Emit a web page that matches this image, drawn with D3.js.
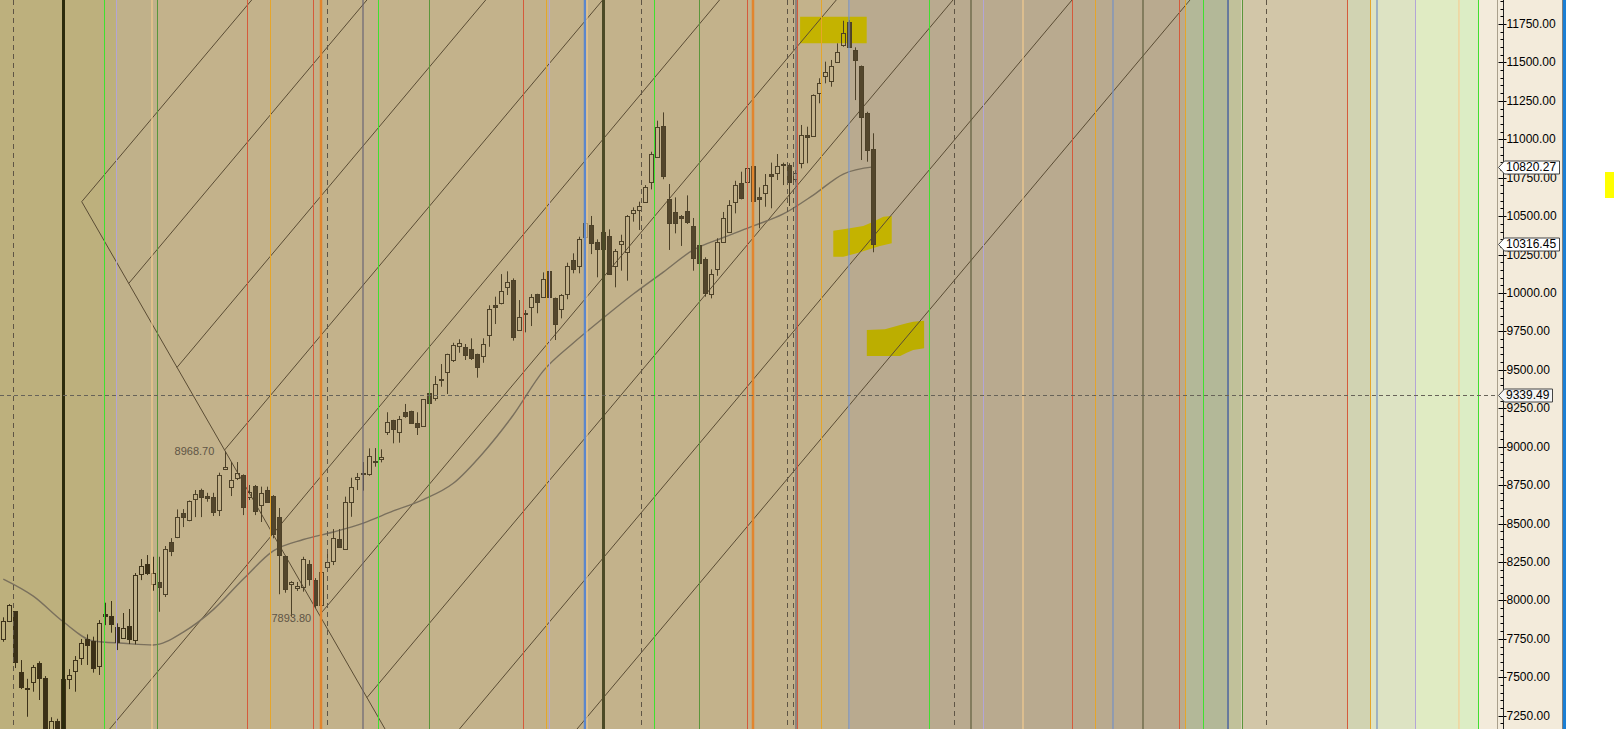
<!DOCTYPE html>
<html>
<head>
<meta charset="utf-8">
<script src="https://cdn.jsdelivr.net/npm/d3@7"></script>
<style>
  html, body { margin: 0; padding: 0; background: #fff; overflow: hidden; }
  svg { display: block; font-family: "Liberation Sans", Arial, sans-serif; }
</style>
</head>
<body>
<svg id="chart" width="1614" height="729"></svg>
<script>
// daily bars, oldest first
const opens = [7747,7863,7931,7532,7429,7471,7591,7494,7130,7214,
  7120,7486,7542,7623,7749,7736,7575,7911,7898,7824,
  7757,7833,7742,8169,8236,8105,8117,8039,8379,8411,
  8566,8522,8658,8716,8677,8673,8586,8857,8736,8794,
  8816,8671,8744,8619,8716,8681,8541,8288,8105,8080,
  8089,8236,8132,7970,8215,8258,8399,8332,8638,8788,
  8827,8820,8905,8918,9093,9172,9097,9224,9230,9152,
  9136,9347,9315,9440,9484,9562,9657,9650,9634,9601,
  9593,9725,9920,9937,10037,10082,9759,9870,9911,9991,
  9976,10141,9967,9898,9993,10213,10177,10362,10440,10330,
  10288,10371,10177,10317,10268,10518,10538,10594,10724,10887,
  11086,10611,10525,10501,10533,10436,10310,10219,9991,10154,
  10334,10399,10594,10713,10720,10826,10622,10652,10774,10782,
  10839,10831,10740,10844,11028,11021,11303,11410,11377,11505,
  11613,11761,11581,11477,11169,10935];
const highs = [7890,7976,7931,7612,7490,7580,7604,7508,7240,7230,
  7510,7553,7638,7749,7779,7764,7872,7985,7996,7851,
  7918,7944,8178,8269,8295,8284,8284,8354,8405,8592,
  8594,8650,8718,8727,8700,8700,8831,8968.7,8900,8900,
  8820,8751,8751,8740,8740,8685,8601,8290,8125,8120,
  8284,8262,8145,8210,8315,8464,8464,8675,8798,8829,
  8900,8989,8991,8983,9224,9175,9200,9278,9234,9224,
  9310,9382,9460,9538,9605,9676,9699,9668,9705,9605,
  9705,9920,9976,10123,10141,10095,9954,9889,9993,9995,
  10134,10188,9970,9993,10197,10258,10366,10475,10501,10349,
  10423,10414,10286,10379,10507,10557,10594,10702,10919,11121,
  11175,10709,10622,10507,10635,10488,10340,10232,10154,10356,
  10527,10604,10730,10789,10815,10830,10687,10774,10848,10904,
  10848,10844,10800,11093,11082,11292,11397,11505,11516,11624,
  11771,11775,11598,11480,11179,11039];
const lows = [7731,7859,7560,7423,7243,7406,7352,7050,7100,7080,
  7090,7423,7406,7580,7580,7530,7515,7839,7790,7677,
  7749,7716,7714,8132,8165,8063,7926,8022,8288,8405,
  8477,8515,8542,8542,8642,8549,8549,8848,8679,8783,
  8555,8653,8555,8510,8640,8404,8040,8050,7893.8,8061,
  8057,8096,7950,7950,8198,8230,8343,8330,8544,8718,
  8714,8811,8870,8898,9076,9022,9026,9188,9150,9076,
  9130,9278,9299,9390,9343,9551,9611,9564,9564,9449,
  9546,9650,9798,9926,9987,9690,9754,9744,9785,9868,
  9972,9970,9694,9835,9959,10128,10128,10345,10253,10102,
  10266,10120,10037,10145,10080,10464,10410,10590,10674,10885,
  10740,10280,10388,10306,10449,10145,10180,9976,9965,10112,
  10327,10395,10518,10609,10637,10595,10421,10561,10551,10735,
  10702,10566,10720,10811,10844,11017,11234,11364,11342,11503,
  11602,11595,11255,10865,10854,10265];
const closes = [7865,7970,7601,7438,7421,7567,7494,7100,7214,7120,
  7486,7514,7612,7720,7712,7558,7852,7900,7846,7731,
  7820,7749,8165,8223,8176,8176,8089,8332,8322,8542,
  8542,8646,8690,8675,8668,8573,8814,8870,8783,8831,
  8609,8703,8583,8697,8642,8432,8297,8076,8120,8094,
  8267,8141,7970,8187,8248,8404,8349,8642,8740,8801,
  8820,8941,8898,8935,9162,9113,9178,9202,9152,9126,
  9308,9286,9406,9432,9601,9660,9672,9594,9579,9520,
  9671,9894,9911,10015,10069,9715,9842,9861,9976,9939,
  10089,9972,9796,9987,10175,10154,10349,10457,10327,10288,
  10395,10123,10273,10336,10501,10538,10566,10687,10904,11078,
  10763,10457,10457,10490,10464,10229,10197,10002,10121,10334,
  10486,10570,10700,10620,10811,10600,10609,10702,10763,10826,
  10831,10719,10778,11028,11017,11288,11364,11436,11477,11566,
  11689,11598,11516,11147,10930,10316.45];

// moving average read every 5 bars
const maIndex = [0,5,10,15,20,25,30,35,40,45,50,55,60,65,70,75,80,85,90,95,100,105,110,115,120,125,130,135,140,145];
const maValues = [8139,8028,7861,7736,7721,7710,7794,7940,8139,8322,8396,8445,8503,8582,8656,8762,8961,9206,9493,9675,9837,9993,10136,10280,10361,10436,10514,10637,10774,10820.27];

const majorTicks = [7250,7500,7750,8000,8250,8500,8750,9000,9250,9500,9750,10000,10250,10500,10750,11000,11250,11500,11750];
const minorTicks = d3.range(7200, 11901, 50).filter(v => v % 250 !== 0);

// price flags on the axis
const flagValues = [10820.27, 10316.45, 9339.49];
const crosshairValue = 9339.49;
const highLabel = { bar: 37, value: 8968.70 };
const lowLabel = { bar: 48, value: 7893.80 };

// time cycle markers, in bar units
const cycleAt = [1.67,10.0,16.73,18.83,24.73,25.67,40.67,44.5,51.67,53.0,54.0,60.0,
  62.53,70.87,86.57,90.45,91.0,97.03,97.33,100.03,106.2,108.37,116.0,123.9,
  125.0,130.57,131.57,132.08,132.32,136.2,141.02,154.2,158.42,161.22,163.22,170.02,
  178.18,182.03,185.03,190.02,196.02,197.03,200.03,204.07,206.37,210.5,224.0,227.83,
  229.0,235.33,242.68,245.83];
const cycleKind = ['dash','black','green','lilac','peach','dkgreen','red','amber','red','orange','dash','slate',
  'green','dkgreen','red','amber','lilac','blue','peach','olive3','dash','green','dkgreen','red',
  'orange','dash','dash','slate','red','amber','steel','green','dash','olive','lilac','peach',
  'red','amber','steel','olive','red','amber','green','navy','dkgreen','dash','red','amber',
  'steel','lilac','peach','green'];

// parallel trend lines: [bar, price] end points
const fanLines = [
  [[13.07,10594],[41.40,11906.1]],
  [[20.90,10062],[60.60,11906.1]],
  [[28.95,9516],[80.40,11906.1]],
  [[36.87,8978],[99.90,11906.1]],
  [[17.73,7163.4],[119.37,11906.1]],
  [[52.70,7905],[138.83,11906.1]],
  [[60.62,7368],[158.28,11906.1]],
  [[76.03,7163.4],[178.12,11906.1]],
  [[95.62,7163.4],[197.78,11906.1]],
  [[13.07,10594],[63.62,7163.4]]
];

// hand marked zones
const zoneTop = [[132.8,11797],[143.9,11797],[143.9,11624],[132.8,11624]];
const zoneMid = [[138.33,10405],[140.57,10418],[143.33,10436],[145.0,10464],[146.67,10496],[148.07,10501],
  [148.07,10323],[146.12,10306],[142.23,10258],[140.0,10236],[138.33,10236]];
const zoneLow = [[143.92,9759],[146.95,9764],[149.48,9792],[150.57,9803],[151.65,9813],[153.47,9820],
  [153.47,9640],[151.65,9629],[150.57,9611],[149.48,9590],[143.92,9590]];
const sideMark = [10787, 10618];

// background shading, bar units
const bandEdges = [-0.55,18.83,25.67,141.02,197.03,204.07,206.37,224.0,227.83,235.33,242.68,245.95];
const bandFills = ['#bdb07d','#c0b18a','#c3b28b','#b9aa8f','#b3b898','#c1c19a','#d2c6a8','#d1d3b2','#dde3c3','#e0ebc3','#dcedc5'];

const lineStyle = {
  dash: { stroke: '#5f5545', w: 1, dash: '5,4' },
  black: { stroke: '#2c2b0c', w: 3 },
  olive3: { stroke: '#4c4a26', w: 3 },
  green: { stroke: '#3fe02f', w: 1 },
  lilac: { stroke: '#b3a5d6', w: 1 },
  peach: { stroke: '#f3cb8f', w: 1.2 },
  dkgreen: { stroke: '#5b963b', w: 1 },
  red: { stroke: '#d55a3b', w: 1 },
  amber: { stroke: '#e6a52a', w: 1 },
  orange: { stroke: '#e2852d', w: 2.5 },
  slate: { stroke: '#6a6676', w: 1.2 },
  blue: { stroke: '#5b87cc', w: 2.5 },
  steel: { stroke: '#7490c4', w: 1.2 },
  olive: { stroke: '#5f5e3d', w: 1.2 },
  navy: { stroke: '#50679c', w: 1.6 }
};

const W = 1614, H = 729, plotW = 1479;
const svg = d3.select('#chart');
const x = d3.scaleLinear().domain([-0.55, 245.95]).range([0, plotW]);
const y = d3.scaleLinear().domain([7163.4, 11906.1]).range([H, 0]);
const crisp = v => Math.round(v) + 0.5;

svg.append('defs').append('clipPath').attr('id', 'plotClip')
  .append('rect').attr('width', plotW).attr('height', H);

const plot = svg.append('g').attr('clip-path', 'url(#plotClip)');

// bands
plot.append('g').selectAll('rect')
  .data(bandFills)
  .join('rect')
  .attr('x', (d, i) => x(bandEdges[i]))
  .attr('width', (d, i) => x(bandEdges[i + 1]) - x(bandEdges[i]))
  .attr('y', 0)
  .attr('height', H)
  .attr('fill', d => d);

// zones under the candles
const zoneLine = d3.line().x(d => x(d[0])).y(d => y(d[1]));
plot.append('g').selectAll('path')
  .data([zoneTop, zoneMid, zoneLow])
  .join('path')
  .attr('d', d => zoneLine(d) + 'Z')
  .attr('fill', (d, i) => i === 2 ? '#bcae00' : '#c4b300');

// trend lines
plot.append('g').selectAll('line')
  .data(fanLines)
  .join('line')
  .attr('x1', d => x(d[0][0])).attr('y1', d => y(d[0][1]))
  .attr('x2', d => x(d[1][0])).attr('y2', d => y(d[1][1]))
  .attr('stroke', '#5a4c34')
  .attr('stroke-width', 1);

// moving average
const maPts = maIndex.map((b, i) => [b, maValues[i]]);
plot.append('path')
  .datum(maPts)
  .attr('d', d3.line().x(d => x(d[0])).y(d => y(d[1])).curve(d3.curveMonotoneX))
  .attr('fill', 'none')
  .attr('stroke', '#7a705d')
  .attr('stroke-width', 1.4);

// candles (the older ones on the olive shading print darker)
const bars = opens.map((o, i) => ({ i, o, h: highs[i], l: lows[i], c: closes[i] }));
const barX = d => crisp(x(d.i));
const bodyTop = d => crisp(y(Math.max(d.o, d.c)));
const bodyBot = d => Math.max(crisp(y(Math.min(d.o, d.c))), bodyTop(d) + 1);
const ink = d => d.i < bandEdges[2] ? '#3d3219' : '#4d4128';
const gBars = plot.append('g');
gBars.selectAll('path')
  .data(bars)
  .join('path')
  .attr('d', d => `M${barX(d)},${y(d.h)}V${bodyTop(d)}M${barX(d)},${bodyBot(d)}V${y(d.l)}`)
  .attr('stroke', ink)
  .attr('stroke-width', 1);
gBars.selectAll('rect')
  .data(bars)
  .join('rect')
  .attr('x', d => barX(d) - 2)
  .attr('width', 4)
  .attr('y', bodyTop)
  .attr('height', d => bodyBot(d) - bodyTop(d))
  .attr('fill', d => d.c >= d.o ? 'none' : (d.i < bandEdges[2] ? '#3b3017' : '#53462c'))
  .attr('stroke', ink)
  .attr('stroke-width', 1);

// cycle markers
const markX = (d, i) => lineStyle[cycleKind[i]].w % 2 === 1 ? crisp(x(d)) : Math.round(x(d));
plot.append('g').selectAll('line')
  .data(cycleAt)
  .join('line')
  .attr('x1', markX)
  .attr('x2', markX)
  .attr('y1', 0).attr('y2', H)
  .attr('stroke', (d, i) => lineStyle[cycleKind[i]].stroke)
  .attr('stroke-width', (d, i) => lineStyle[cycleKind[i]].w)
  .attr('stroke-dasharray', (d, i) => lineStyle[cycleKind[i]].dash || null);

// high / low labels
plot.append('text')
  .attr('x', x(highLabel.bar) - 11)
  .attr('y', y(highLabel.value))
  .attr('dy', '0.35em')
  .attr('text-anchor', 'end')
  .attr('font-size', 11)
  .attr('fill', '#5f5545')
  .text(highLabel.value.toFixed(2));
plot.append('text')
  .attr('x', x(lowLabel.bar))
  .attr('y', y(lowLabel.value) + 1)
  .attr('dy', '0.35em')
  .attr('text-anchor', 'middle')
  .attr('font-size', 11)
  .attr('fill', '#5f5545')
  .text(lowLabel.value.toFixed(2));

// axis panel
svg.append('rect').attr('x', plotW).attr('y', 0).attr('width', 1562 - plotW).attr('height', H).attr('fill', '#f3ebdb');
svg.append('line').attr('x1', 1497.5).attr('x2', 1497.5).attr('y1', 0).attr('y2', H).attr('stroke', '#aaa08c');

// crosshair
svg.append('line')
  .attr('x1', 0).attr('x2', 1498)
  .attr('y1', crisp(y(crosshairValue))).attr('y2', crisp(y(crosshairValue)))
  .attr('stroke', '#676359')
  .attr('stroke-dasharray', '4,3');

const axisG = svg.append('g').attr('transform', 'translate(1503.5,0)');
axisG.call(d3.axisRight(y).tickValues(majorTicks).tickSize(3).tickPadding(3).tickFormat(d => d.toFixed(2)));
axisG.select('.domain').remove();
axisG.selectAll('.tick line').attr('x1', -5).attr('x2', 3).attr('stroke', '#000');
axisG.selectAll('.tick').attr('transform', d => `translate(0,${crisp(y(d))})`);
axisG.selectAll('.tick text').attr('x', 3).attr('font-size', 12).attr('fill', '#000')
  .attr('font-family', '"Liberation Sans", Arial, sans-serif');
axisG.append('line').attr('x1', 0).attr('x2', 0).attr('y1', 0).attr('y2', H).attr('stroke', '#222');
axisG.selectAll('.minor')
  .data(minorTicks)
  .join('line')
  .attr('class', 'minor')
  .attr('x1', -3).attr('x2', 0)
  .attr('y1', d => crisp(y(d))).attr('y2', d => crisp(y(d)))
  .attr('stroke', '#000');

// value flags
const flagG = svg.append('g');
flagValues.forEach(v => {
  const yc = Math.round(y(v));
  const g = flagG.append('g');
  const path = g.append('path');
  const t = g.append('text')
    .attr('x', 1506)
    .attr('y', yc)
    .attr('dy', '0.36em')
    .attr('font-size', 12)
    .attr('fill', '#000')
    .text(v.toFixed(2));
  const tw = t.node().getComputedTextLength();
  const r = Math.round(1506 + tw + 3) + 0.5;
  path.attr('d', `M1498.5,${yc + 0.5}L1504.5,${yc - 6}H${r}V${yc + 7}H1504.5Z`)
    .attr('fill', v === crosshairValue ? '#f4f4f4' : '#ffffff')
    .attr('stroke', '#444')
    .attr('stroke-width', 1);
});

// right frame
svg.append('line').attr('x1', 1562.5).attr('x2', 1562.5).attr('y1', 0).attr('y2', H).attr('stroke', '#808080');
svg.append('rect').attr('x', 1563).attr('y', 0).attr('width', 3).attr('height', H).attr('fill', '#1b7fd4');
svg.append('rect')
  .attr('x', 1605).attr('width', 9)
  .attr('y', y(sideMark[0])).attr('height', y(sideMark[1]) - y(sideMark[0]))
  .attr('fill', '#ffff00');
</script>
</body>
</html>
